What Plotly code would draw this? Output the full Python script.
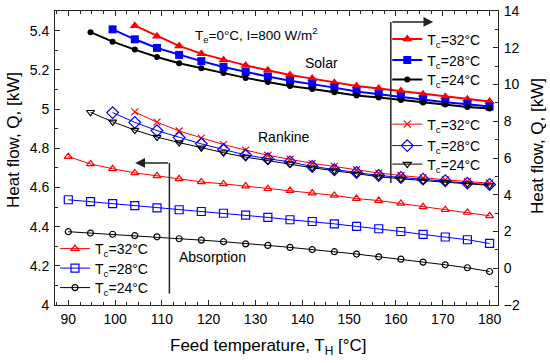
import plotly.graph_objects as go

# Feed temperature grid (20 points from 90 to 180 °C)
T_H = [90.0, 94.74, 99.47, 104.21, 108.95, 113.68, 118.42, 123.16, 127.89, 132.63,
       137.37, 142.11, 146.84, 151.58, 156.32, 161.05, 165.79, 170.53, 175.26, 180.0]

# Solar heat flow (right axis, kW)
solar_32 = [13.20, 12.63, 12.10, 11.68, 11.34, 11.04, 10.78, 10.52, 10.32, 10.10,
            9.92, 9.78, 9.64, 9.47, 9.34, 9.20, 9.07]            # from index 3
solar_28 = [13.00, 12.46, 11.99, 11.61, 11.27, 10.95, 10.68, 10.43, 10.20, 10.02,
            9.83, 9.62, 9.47, 9.34, 9.18, 9.04, 8.93, 8.80]      # from index 2
solar_24 = [12.85, 12.33, 11.90, 11.50, 11.16, 10.89, 10.62, 10.36, 10.14, 9.92,
            9.76, 9.58, 9.40, 9.29, 9.16, 9.02, 8.91, 8.78, 8.69]  # from index 1

# Rankine heat flow (right axis, kW)
rank_32 = [8.51, 7.95, 7.47, 7.08, 6.73, 6.43, 6.15, 5.93, 5.71, 5.54,
           5.36, 5.18, 5.05, 4.92, 4.81, 4.72, 4.63]
rank_28 = [8.47, 7.94, 7.49, 7.11, 6.77, 6.46, 6.17, 5.96, 5.79, 5.54,
           5.36, 5.21, 5.05, 4.94, 4.85, 4.76, 4.63, 4.56]
rank_24 = [8.49, 7.97, 7.52, 7.14, 6.84, 6.55, 6.29, 6.05, 5.85, 5.68,
           5.47, 5.31, 5.14, 4.98, 4.87, 4.76, 4.68, 4.60, 4.51]

# Absorption heat flow (left axis, kW)
abs_32 = [4.757, 4.720, 4.695, 4.674, 4.659, 4.644, 4.628, 4.618, 4.607, 4.593,
          4.584, 4.571, 4.559, 4.543, 4.533, 4.518, 4.501, 4.486, 4.472, 4.455]
abs_28 = [4.537, 4.527, 4.517, 4.507, 4.496, 4.486, 4.477, 4.468, 4.459, 4.447,
          4.435, 4.426, 4.414, 4.401, 4.389, 4.375, 4.360, 4.347, 4.333, 4.314]
abs_24 = [4.374, 4.367, 4.361, 4.354, 4.348, 4.338, 4.331, 4.323, 4.312, 4.304,
          4.294, 4.283, 4.272, 4.260, 4.246, 4.234, 4.219, 4.205, 4.190, 4.171]

labels = ["T<sub>c</sub>=32°C", "T<sub>c</sub>=28°C", "T<sub>c</sub>=24°C"]
colors = ["#ff0000", "#0000ff", "#000000"]

FONT = "Liberation Sans, Arial, sans-serif"
W, H = 550, 363
ML, MR, MT, MB = 55, 52, 11, 58
PH = H - MT - MB
PW = W - ML - MR


def py2paper(py):
    return (H - MB - py) / PH


def px2paper(px):
    return (px - ML) / PW


fig = go.Figure()
legend_cfg = {}
legend_idx = [0]


def new_legend(x, py):
    legend_idx[0] += 1
    name = "legend" if legend_idx[0] == 1 else f"legend{legend_idx[0]}"
    legend_cfg[name] = dict(x=x, y=py2paper(py), xanchor="left", yanchor="middle",
                            bgcolor="rgba(0,0,0,0)", font=dict(size=14, family=FONT, color="black"),
                            itemwidth=30, borderwidth=0, visible=True)
    return name


# Solar
solar = [solar_32, solar_28, solar_24]
solar_sym = ["triangle-up", "square", "circle"]
solar_size = [9, 8, 6]
solar_leg_y = [39.5, 60.5, 80]
for i in range(3):
    ys = solar[i]
    xs = T_H[len(T_H) - len(ys):]
    fig.add_trace(go.Scatter(x=xs, y=ys, yaxis="y2", mode="lines+markers", name=labels[i],
                             line=dict(color=colors[i], width=2),
                             marker=dict(symbol=solar_sym[i], size=solar_size[i], color=colors[i]),
                             legend=new_legend(0.75, solar_leg_y[i]), showlegend=True))

# Rankine
rank = [rank_32, rank_28, rank_24]
rank_sym = ["x-thin-open", "diamond-open", "triangle-down-open"]
rank_size = [7, 9, 7]
rank_leg_y = [124.5, 146, 164.5]
for i in range(3):
    ys = rank[i]
    xs = T_H[len(T_H) - len(ys):]
    fig.add_trace(go.Scatter(x=xs, y=ys, yaxis="y2", mode="lines+markers", name=labels[i],
                             line=dict(color=colors[i], width=1),
                             marker=dict(symbol=rank_sym[i], size=rank_size[i], color=colors[i],
                                         line=dict(width=1.2, color=colors[i])),
                             legend=new_legend(0.75, rank_leg_y[i]), showlegend=True))

# Absorption
absb = [abs_32, abs_28, abs_24]
abs_sym = ["triangle-up-open", "square-open", "circle-open"]
abs_size = [7, 8, 6]
abs_leg_y = [249, 268.5, 288]
for i in range(3):
    fig.add_trace(go.Scatter(x=T_H, y=absb[i], yaxis="y", mode="lines+markers", name=labels[i],
                             line=dict(color=colors[i], width=1),
                             marker=dict(symbol=abs_sym[i], size=abs_size[i], color=colors[i],
                                         line=dict(width=1.2, color=colors[i])),
                             legend=new_legend(0.0, abs_leg_y[i]), showlegend=True))

axis_common = dict(showline=True, linecolor="#222", linewidth=1, ticks="inside", ticklen=5,
                   tickcolor="#222", tickfont=dict(size=14, color="black", family=FONT),
                   showgrid=False, zeroline=False, automargin=False)

fig.update_layout(
    width=W, height=H, showlegend=True,
    margin=dict(l=ML, r=MR, t=MT, b=MB, autoexpand=False),
    paper_bgcolor="white", plot_bgcolor="white",
    font=dict(family=FONT, color="black"),
    xaxis=dict(range=[87.16, 181.8], tick0=90, dtick=10, mirror="ticks", ticklabelstandoff=1,
               minor=dict(dtick=2.5, ticklen=3, ticks="inside", tickcolor="#222"),
               **axis_common),
    yaxis=dict(range=[4, 5.5], tick0=4, dtick=0.2, ticklabelstandoff=2,
               minor=dict(dtick=0.1, ticklen=3, ticks="inside", tickcolor="#222"),
               **axis_common),
    yaxis2=dict(range=[-2, 14], tick0=-2, dtick=2, overlaying="y", side="right", ticklabelstandoff=2,
                minor=dict(dtick=1, ticklen=3, ticks="inside", tickcolor="#222"),
                **axis_common),
    **legend_cfg,
)

# Axis titles as annotations
title_font = dict(size=17, color="black", family=FONT)
ann_c = dict(showarrow=False, xanchor="center", yanchor="middle")
fig.add_annotation(xref="paper", yref="paper", x=px2paper(13), y=py2paper(140),
                   textangle=-90, font=title_font, text="Heat flow, Q, [kW]", **ann_c)
fig.add_annotation(xref="paper", yref="paper", x=px2paper(537), y=py2paper(146),
                   textangle=-90, font=title_font, text="Heat flow, Q, [kW]", **ann_c)
fig.add_annotation(xref="paper", yref="paper", x=px2paper(268), y=py2paper(347),
                   font=title_font, text="Feed temperature, T<sub>H</sub> [°C]", **ann_c)

# Arrows indicating axes
line_style = dict(color="#222", width=1.5)
fig.add_shape(type="line", xref="x", yref="y", x0=158.9, x1=158.9, y0=5.444, y1=4.623, line=line_style)
fig.add_annotation(xref="x", yref="y", axref="x", ayref="y", x=167.96, y=5.444, ax=158.9, ay=5.444,
                   showarrow=True, arrowhead=2, arrowsize=1.3, arrowwidth=1.5, arrowcolor="#222", text="")
fig.add_shape(type="line", xref="x", yref="y", x0=111.6, x1=111.6, y0=4.725, y1=4.058, line=line_style)
fig.add_annotation(xref="x", yref="y", axref="x", ayref="y", x=104.3, y=4.725, ax=111.6, ay=4.725,
                   showarrow=True, arrowhead=2, arrowsize=1.3, arrowwidth=1.5, arrowcolor="#222", text="")

# Text labels
txt_font = dict(size=14, color="black", family=FONT)
fig.add_annotation(xref="x", yref="y", x=130.0, y=5.38,
                   font=dict(size=13.5, color="black", family=FONT),
                   text="T<sub>e</sub>=0°C, I=800 W/m<sup>2</sup>", **ann_c)
fig.add_annotation(xref="x", yref="y", x=144.0, y=5.235, font=txt_font, text="Solar", **ann_c)
fig.add_annotation(xref="x", yref="y", x=136.1, y=4.855, font=txt_font, text="Rankine", **ann_c)
fig.add_annotation(xref="x", yref="y", x=120.9, y=4.245, font=txt_font, text="Absorption", **ann_c)

fig.write_html("out.html", config={"displayModeBar": False},
               post_script="document.body.style.margin='0px';document.body.style.overflow='hidden';")
